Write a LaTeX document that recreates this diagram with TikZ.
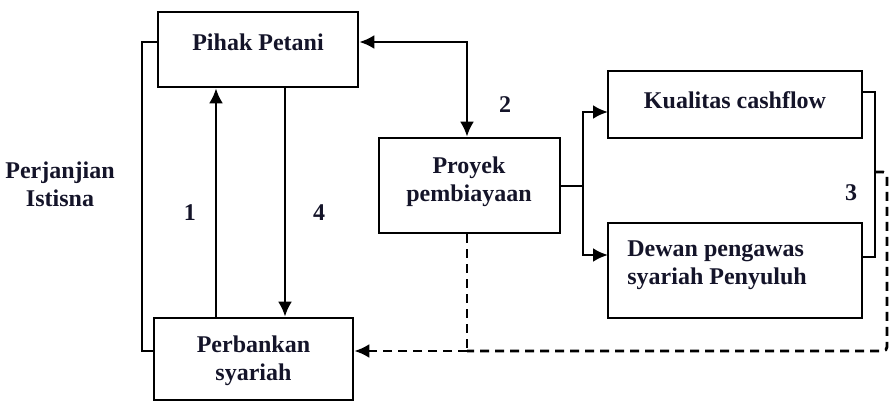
\documentclass[tikz,border=0pt]{standalone}
\usepackage{fontspec}
\setmainfont{Liberation Serif}
\usetikzlibrary{arrows.meta}
\definecolor{ink}{rgb}{0.08,0.08,0.16}
\begin{document}
\begin{tikzpicture}[x=0.5pt,y=-0.5pt,
  box/.style={draw,line width=1.3pt,inner sep=0pt},
  txt/.style={font=\fontsize{12}{14}\selectfont\bfseries,text=ink,align=center,inner sep=0pt},
  ln/.style={line width=1.4pt},
  tip/.tip={Latex[length=7.5pt,width=7pt]},
  arr/.style={ln,-tip},
  arrb/.style={ln,tip-tip},
  dsh/.style={ln,dash pattern=on 4.5pt off 3pt}]
\useasboundingbox (0,0) rectangle (896,402);
% boxes
\node[box,minimum width=100pt,minimum height=37.5pt] (pihak) at (258,49.5) {};
\node[box,minimum width=90.5pt,minimum height=47.5pt] (proyek) at (469.5,185.5) {};
\node[box,minimum width=127pt,minimum height=33.5pt] (kual) at (735,104.5) {};
\node[box,minimum width=127pt,minimum height=47.5pt] (dewan) at (735,270.5) {};
\node[box,minimum width=99.5pt,minimum height=41pt] (bank) at (253.5,359) {};
% texts
\node[txt] (tpihak) at (258,42) {Pihak Petani};
\node[txt] (tproyek) at (469,182) {Proyek\\pembiayaan};
\node[txt] (tkual) at (735,100) {Kualitas cashflow};
\node[txt,align=left,anchor=west] (tdewan) at (627,265) {Dewan pengawas\\syariah Penyuluh};
\node[txt] (tbank) at (253.5,361) {Perbankan\\syariah};
\node[txt] (tperj) at (60,184) {Perjanjian\\Istisna};
\node[txt] (n1) at (190,213) {1};
\node[txt] (n4) at (319,213) {4};
\node[txt] (n2) at (505,105) {2};
\node[txt] (n3) at (851,193) {3};
% helper coordinates
\coordinate (bl1) at (142,42);
\coordinate (bl2) at (142,351);
\coordinate (x1) at (216,200);
\coordinate (x4) at (285,200);
\coordinate (c2) at (467,42);
\coordinate (sp) at (583,186);
\coordinate (ka) at (608,112);
\coordinate (da) at (608,255);
\coordinate (r1) at (875,92);
\coordinate (r2) at (875,257);
\coordinate (d0) at (875,172);
\coordinate (d1) at (887,172);
\coordinate (d2) at (887,351);
\coordinate (d3) at (467,351);
% connectors
\draw[ln] (pihak.west |- bl1) -- (bl1) -- (bl2) -- (bank.west |- bl2);
\draw[arr] (x1 |- bank.north) -- (x1 |- pihak.south);
\draw[arr] (x4 |- pihak.south) -- (x4 |- bank.north);
\draw[arrb] (pihak.east |- c2) -- (c2) -- (c2 |- proyek.north);
\draw[ln] (proyek.east |- sp) -- (sp);
\draw[arr] (sp) |- (ka);
\draw[arr] (sp) |- (da);
\draw[ln] (kual.east |- r1) -- (r1) -- (r2) -- (dewan.east |- r2);
\draw[dsh,rounded corners=2pt] (d0) -- (d1) -- (d2) -- (d3);
\draw[dsh,-tip] (d3) -- (bank.east |- d3);
\draw[dsh] (proyek.south -| d3) -- (d3);
\end{tikzpicture}
\end{document}
